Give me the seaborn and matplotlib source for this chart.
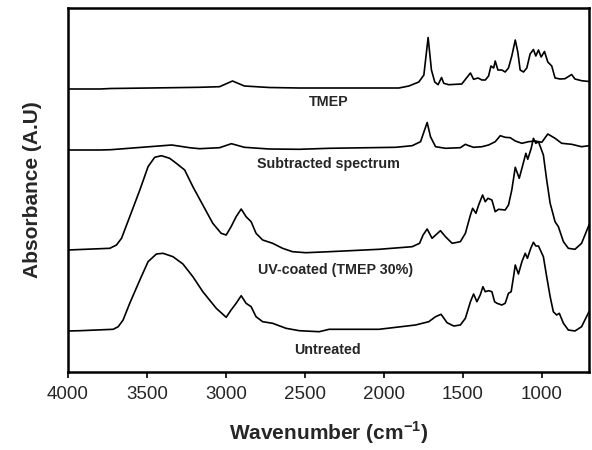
import pandas as pd
import matplotlib
matplotlib.use("Agg")
import matplotlib.pyplot as plt
import seaborn as sns

# FTIR spectra (wavenumber in cm-1, absorbance in arbitrary units above each baseline)
tmep_wn = [4000, 3798, 3729, 3482, 3167, 3040, 2958, 2883, 2725, 2535, 2346, 2157, 1904, 1841,
           1778, 1746, 1719, 1698, 1677, 1656, 1634, 1620, 1588, 1506, 1451, 1431, 1403, 1378,
           1357, 1336, 1321, 1304, 1294, 1277, 1252, 1231, 1210, 1189, 1167, 1151, 1136, 1115,
           1094, 1073, 1052, 1037, 1020, 1003, 982, 961, 936, 915, 883, 852, 810, 789, 747, 700]
tmep_abs = [0, 0, 0.5, 1.0, 1.7, 2.3, 8, 3, 1.5, 1, 1, 1, 1, 3,
            7, 14, 51.5, 19, 7, 4.3, 11.5, 5.7, 4.3, 5, 16, 9.7, 11, 9,
            9, 13, 23, 21, 28, 19, 19, 17, 21, 33, 49, 37, 19, 17,
            21, 35, 39.5, 33, 39, 32, 37.5, 27, 23, 11, 10, 10.3, 14.5, 10, 8.3, 7.5]

sub_wn = [4000, 3798, 3729, 3343, 3230, 3167, 3040, 2965, 2883, 2725, 2535, 2346, 1925, 1820,
          1767, 1725, 1704, 1672, 1609, 1515, 1483, 1462, 1431, 1378, 1336, 1294, 1262, 1231,
          1199, 1167, 1125, 1083, 1041, 999, 961, 915, 873, 810, 747, 700]
sub_abs = [0, 0, 0.3, 5, 2.3, 1.3, 2.3, 6.3, 2.7, 1, 0.7, 1.7, 2.7, 4.3,
           8.3, 27.5, 13.3, 3.3, 1.7, 2.3, 5.7, 4.3, 2.7, 3.3, 5, 8.3, 14.3, 12.7,
           12.3, 9, 6.7, 8.3, 9, 7.7, 16, 11.7, 6.7, 5.7, 3.3, 4.3]

uv_wn = [4000, 3735, 3693, 3661, 3609, 3545, 3493, 3451, 3408, 3356, 3314, 3261, 3209, 3146,
         3083, 3030, 2998, 2967, 2935, 2903, 2872, 2840, 2809, 2767, 2704, 2641, 2578, 2493,
         2346, 2030, 1820, 1773, 1751, 1725, 1694, 1641, 1609, 1567, 1515, 1483, 1451, 1437,
         1416, 1399, 1374, 1357, 1340, 1315, 1294, 1273, 1231, 1210, 1189, 1167, 1142, 1121,
         1100, 1088, 1066, 1052, 1037, 1020, 989, 968, 946, 915, 894, 862, 831, 789, 747, 700]
uv_abs = [0, 1.7, 5, 11.7, 33.3, 60, 83.3, 92.7, 94.3, 91.7, 86.7, 80, 63.3, 45,
          26.7, 16.7, 15, 23.3, 33.3, 41, 33.3, 28.3, 16.7, 10, 6.7, 1.7, -1.7, -2.7,
          -1.7, 0.7, 3.3, 6.7, 15, 21, 11.7, 19.3, 13.3, 6.7, 8.3, 16.7, 35, 41.7,
          36.7, 45, 55, 48.3, 51.7, 50, 38.3, 40.7, 40, 45, 60, 82.7, 71.7, 84,
          96.7, 90.7, 101.7, 111.7, 106.7, 108.3, 95, 70, 46.7, 28.3, 23.3, 8.3, 1.7, 0.7, 6.7, 25]

unt_wn = [4000, 3924, 3714, 3682, 3651, 3609, 3545, 3493, 3440, 3398, 3335, 3272, 3209, 3146,
          3061, 2998, 2967, 2935, 2903, 2872, 2840, 2809, 2767, 2704, 2619, 2535, 2409, 2346,
          2030, 1799, 1715, 1672, 1637, 1599, 1557, 1515, 1483, 1451, 1431, 1410, 1389, 1372,
          1357, 1336, 1315, 1298, 1283, 1252, 1231, 1210, 1193, 1178, 1167, 1147, 1125, 1104,
          1090, 1069, 1052, 1037, 1020, 989, 968, 946, 926, 905, 888, 862, 831, 789, 747, 700]
unt_abs = [0, 0.3, 1.7, 4.3, 11, 27.7, 51, 69.3, 77, 77.7, 74.3, 67, 54.3, 39.3,
           22.7, 13.7, 21, 27.7, 35.3, 27.7, 24.3, 14.3, 9.3, 7.7, 2.7, 0.3, -0.7, 1.7,
           1.7, 6, 9.3, 14.3, 16.7, 8.3, 5, 6, 12.7, 29.3, 37, 29.3, 36, 44.3,
           39.3, 40.3, 39.3, 29.3, 27.7, 26, 27.7, 37.7, 39.3, 54.3, 66, 57, 69.3, 77.7,
           72.7, 82.7, 88.7, 85, 85, 74.3, 54.3, 34.3, 19.3, 16, 17.7, 7.7, 1, 0, 4.3, 19.3]

names = ["TMEP", "Subtracted spectrum", "UV-coated (TMEP 30%)", "Untreated"]

# vertical stacking of the spectra and label placement
offsets = {"TMEP": 283, "Subtracted spectrum": 222, "UV-coated (TMEP 30%)": 122, "Untreated": 41}
label_pos = {"TMEP": (2349, 270), "Subtracted spectrum": (2352, 208),
             "UV-coated (TMEP 30%)": (2308, 102), "Untreated": (2355, 22)}

frames = []
for name, wn, ab in zip(names, [tmep_wn, sub_wn, uv_wn, unt_wn], [tmep_abs, sub_abs, uv_abs, unt_abs]):
    df = pd.DataFrame({"wavenumber": wn, "absorbance": ab})
    df["y"] = df["absorbance"] + offsets[name]
    df["sample"] = name
    frames.append(df)
data = pd.concat(frames, ignore_index=True)

sns.set_style("ticks")
plt.rcParams["font.family"] = ["Liberation Sans", "DejaVu Sans"]
plt.rcParams["mathtext.fontset"] = "custom"
plt.rcParams["mathtext.bf"] = "Liberation Sans:bold"
plt.rcParams["mathtext.rm"] = "Liberation Sans"

fig = plt.figure(figsize=(5.92, 4.5), dpi=100)
ax = fig.add_axes([68 / 592, 78 / 450, 521 / 592, 364 / 450])

sns.lineplot(data=data, x="wavenumber", y="y", hue="sample", units="sample", estimator=None,
             palette=["black"] * 4, linewidth=1.2, legend=False, ax=ax)

for name in names:
    x, y = label_pos[name]
    ax.text(x, y, name, ha="center", va="center", fontsize=10.3, fontweight="bold")

ax.set_xlim(4000, 700)
ax.set_ylim(0, 364)
ax.set_xticks([4000, 3500, 3000, 2500, 2000, 1500, 1000])
ax.set_yticks([])
ax.tick_params(axis="x", direction="out", length=4, width=1.2, labelsize=13.5, pad=6, color="black")
for sp in ax.spines.values():
    sp.set_linewidth(1.8)
    sp.set_color("black")
ax.set_xlabel("Wavenumber (cm$^{\\mathbf{-1}}$)", fontsize=15, fontweight="bold", labelpad=12)
ax.set_ylabel("Absorbance (A.U)", fontsize=15, fontweight="bold", labelpad=19)

plt.savefig("out.png", dpi=100)
